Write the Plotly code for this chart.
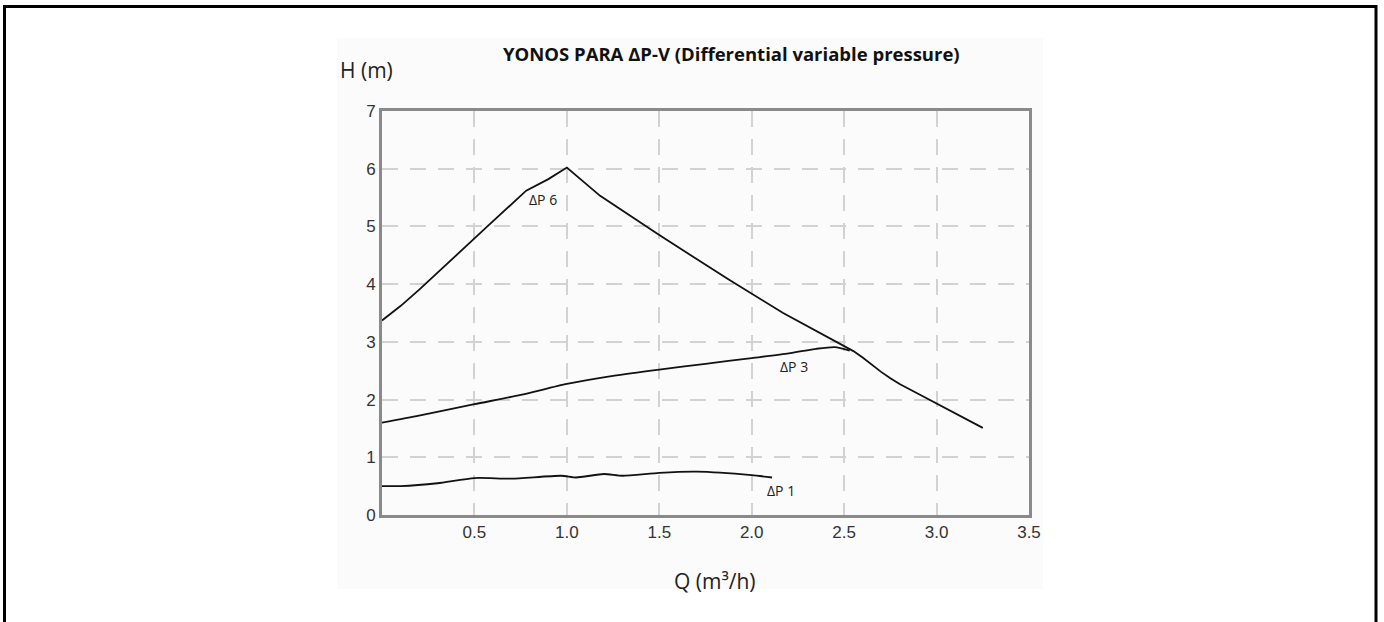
import plotly.graph_objects as go

# ---- data ----
dp6_q = [0.0, 0.1, 0.2, 0.3, 0.4, 0.57, 0.78, 0.9, 1.0, 1.18, 1.5, 1.88, 2.17, 2.5, 2.55, 2.6, 2.65, 2.7, 2.75, 2.8, 2.9, 3.0, 3.25]
dp6_h = [3.37, 3.62, 3.9, 4.2, 4.5, 5.0, 5.62, 5.82, 6.02, 5.53, 4.85, 4.07, 3.5, 2.92, 2.84, 2.73, 2.6, 2.48, 2.37, 2.27, 2.1, 1.93, 1.51]

dp3_q = [0.0, 0.2, 0.5, 0.75, 1.0, 1.25, 1.5, 1.75, 2.0, 2.2, 2.35, 2.45, 2.53]
dp3_h = [1.6, 1.72, 1.92, 2.08, 2.27, 2.41, 2.52, 2.62, 2.72, 2.8, 2.88, 2.91, 2.85]

dp1_q = [0.0, 0.1, 0.3, 0.5, 0.7, 0.97, 1.05, 1.2, 1.3, 1.5, 1.7, 2.0, 2.11]
dp1_h = [0.5, 0.5, 0.55, 0.64, 0.63, 0.68, 0.65, 0.71, 0.68, 0.73, 0.75, 0.69, 0.65]

curve_labels = ["ΔP 6", "ΔP 3", "ΔP 1"]
label_q = [0.87, 2.23, 2.16]
label_h = [5.47, 2.58, 0.42]

x_tickvals = [0.5, 1.0, 1.5, 2.0, 2.5, 3.0, 3.5]
x_ticktext = ["0.5", "1.0", "1.5", "2.0", "2.5", "3.0", "3.5"]
y_tickvals = [0, 1, 2, 3, 4, 5, 6, 7]

title_text = "<b>YONOS PARA ΔP-V (Differential variable pressure)</b>"
x_title = "Q (m³/h)"
y_title = "H (m)"

FONT = "Open Sans, Noto Sans, sans-serif"
TICKFONT = "Liberation Sans, Arial, sans-serif"

fig = go.Figure()
line_style = dict(color="#111111", width=1.8)
fig.add_trace(go.Scatter(x=dp6_q, y=dp6_h, mode="lines", line=line_style, hoverinfo="skip"))
fig.add_trace(go.Scatter(x=dp3_q, y=dp3_h, mode="lines", line=dict(shape="spline", smoothing=0.6, **line_style), hoverinfo="skip"))
fig.add_trace(go.Scatter(x=dp1_q, y=dp1_h, mode="lines", line=dict(shape="spline", smoothing=0.6, **line_style), hoverinfo="skip"))

for t, q, h in zip(curve_labels, label_q, label_h):
    fig.add_annotation(x=q, y=h, text=t, showarrow=False, xref="x", yref="y",
                       font=dict(family=FONT, size=14, color="#222222"))

W, H = 1384, 622
L, R, T, B = 382, 1029, 111, 515
pw, ph = R - L, B - T

def px(x):
    return (x - L) / pw

def py(y):
    return (B - y) / ph

# subtle background panel
fig.add_shape(type="rect", xref="paper", yref="paper", layer="below",
              x0=px(337), x1=px(1043), y0=py(589), y1=py(38),
              fillcolor="#fbfbfb", line=dict(width=0))
# outer frame
fig.add_shape(type="rect", xref="paper", yref="paper", layer="above",
              x0=px(4.5), x1=px(1376), y0=py(640), y1=py(6.5),
              fillcolor="rgba(0,0,0,0)", line=dict(color="black", width=3))

fig.add_annotation(x=px(731.5), y=py(53), xref="paper", yref="paper", text=title_text,
                   showarrow=False, xanchor="center", yanchor="middle",
                   font=dict(family=FONT, size=18.5, color="#111111"))
fig.add_annotation(x=px(338), y=py(70), xref="paper", yref="paper", text=y_title,
                   showarrow=False, xanchor="left", yanchor="middle",
                   font=dict(family=FONT, size=21, color="#222222"))
fig.add_annotation(x=px(714.5), y=py(581), xref="paper", yref="paper", text=x_title,
                   showarrow=False, xanchor="center", yanchor="middle",
                   font=dict(family=FONT, size=21, color="#222222"))

grid = dict(showgrid=True, gridcolor="#d2d2d2", gridwidth=1.5, griddash="16px,12px")
fig.update_xaxes(range=[0, 3.5], tickvals=x_tickvals, ticktext=x_ticktext,
                 showline=True, linecolor="#8a8a8a", linewidth=3, mirror=True,
                 zeroline=False, ticks="", tickfont=dict(family=TICKFONT, size=17, color="#333333"),
                 **grid)
fig.update_yaxes(range=[0, 7], tickvals=y_tickvals,
                 showline=True, linecolor="#8a8a8a", linewidth=3, mirror=True,
                 zeroline=False, ticks="", tickfont=dict(family=TICKFONT, size=17, color="#333333"),
                 **grid)

fig.update_layout(width=W, height=H, margin=dict(l=L, r=W - R, t=T, b=H - B),
                  paper_bgcolor="white", plot_bgcolor="rgba(0,0,0,0)", showlegend=False)

fig.write_html("out.html")
